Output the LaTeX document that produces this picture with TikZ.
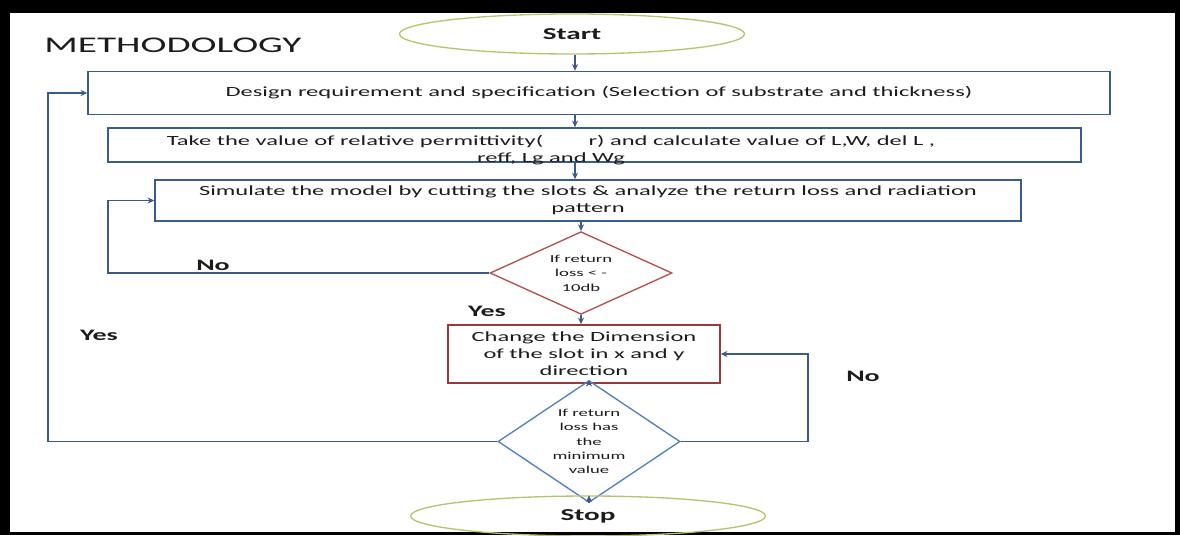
\documentclass[tikz,border=0pt]{standalone}
\usepackage{fontspec}
\setmainfont{Carlito}[FakeStretch=1.75]
\usetikzlibrary{shapes.geometric,arrows.meta}
\definecolor{boxblue}{HTML}{385D8A}
\definecolor{lineblue}{HTML}{3B5A8C}
\definecolor{lightblue}{HTML}{4F81BD}
\definecolor{boxred}{HTML}{953A3F}
\definecolor{rosered}{HTML}{B5504D}
\definecolor{olive}{HTML}{B9C26C}
\definecolor{ink}{HTML}{1C1C1C}

\begin{document}
\begin{tikzpicture}[x=0.75pt,y=-0.75pt,
    every node/.style={text=ink,font=\fontsize{10.5}{12.75}\selectfont},
    stepbox/.style={rectangle,draw=boxblue,line width=1.1pt,inner sep=0pt,align=center},
    endcap/.style={ellipse,draw=olive,line width=1pt,inner sep=0pt,font=\bfseries\fontsize{12.5}{15}\selectfont},
    query/.style={diamond,line width=1pt,inner sep=-3pt,align=center,font=\fontsize{8}{10.8}\selectfont},
    answer/.style={font=\bfseries\fontsize{12}{15}\selectfont},
    flow/.style={draw=lineblue,line width=1.1pt,-{Stealth[length=5pt,width=4.5pt]}}]
        \useasboundingbox (0,0) rectangle (1180,535);
        \fill[black] (0,0) rectangle (1180,535);
        \fill[white] (10,13) rectangle (1175,532);

        \node[font=\fontsize{16.8}{20}\selectfont] (title) at (173, 45) {METHODOLOGY};

        \node[endcap,minimum width=258.75pt,minimum height=30pt] (start) at (572, 34) {Start};
        \node[stepbox,minimum width=766.5pt,minimum height=32.25pt] (box1) at (599, 93)
            {Design requirement and specification (Selection of substrate and thickness)};
        \node[stepbox,minimum width=729.75pt,minimum height=25.5pt] (box2) at (594.5, 145) {};
        \node[align=center] (box2text) at (551, 150)
            {Take the value of relative permittivity(\hspace{34pt}r) and calculate value of L,W, del L ,\\
             reff, Lg and Wg};
        \node[stepbox,minimum width=649.5pt,minimum height=30.75pt] (box3) at (588, 200.5)
            {Simulate the model by cutting the slots \& analyze the return loss and radiation\\ pattern};
        \node[query,draw=rosered,minimum width=136.5pt,minimum height=51.75pt] (d1) at (581, 273)
            {If return\\ loss < -\\ 10db};
        \node[stepbox,draw=boxred,minimum width=204pt,minimum height=43.5pt] (box4) at (584, 354)
            {Change the Dimension\\ of the slot in x and y\\ direction};
        \node[query,draw=lightblue,minimum width=136.5pt,minimum height=70pt] (d2) at (589, 441.5)
            {If return\\ loss has\\ the\\ minimum\\ value};
        \node[endcap,minimum width=266pt,minimum height=30pt] (stop) at (588, 516) {Stop};

        \coordinate (spine) at (575, 0);
        \coordinate (noleft) at (108, 0);
        \coordinate (yesleft) at (48, 0);
        \coordinate (noright) at (808, 0);

        \node[answer] (no1) at (213, 265) {No};
        \node[answer] (yes1) at (487, 311) {Yes};
        \node[answer] (yes2) at (99, 335) {Yes};
        \node[answer] (no2) at (863, 376) {No};

        \draw[flow] (start.south -| spine) -- (box1.north -| spine);
        \draw[flow] (box1.south -| spine) -- (box2.north -| spine);
        \draw[flow] (box2.south -| spine) -- (box3.north -| spine);
        \draw[flow] (box3.south -| d1) -- (d1.north);
        \draw[flow] (d1.south) -- (d1.south |- box4.north);
        \draw[flow] (d2.north |- box4.south) -- (d2.north);
        \draw[flow] (d2.south) -- (d2.south |- stop.north);

        \draw[flow] (d1.west) -- (d1.west -| noleft) |- (box3.west);
        \draw[flow] (d2.west) -- (d2.west -| yesleft) |- (box1.west);
        \draw[flow] (d2.east) -- (d2.east -| noright) |- (box4.east);
      \end{tikzpicture}
\end{document}
